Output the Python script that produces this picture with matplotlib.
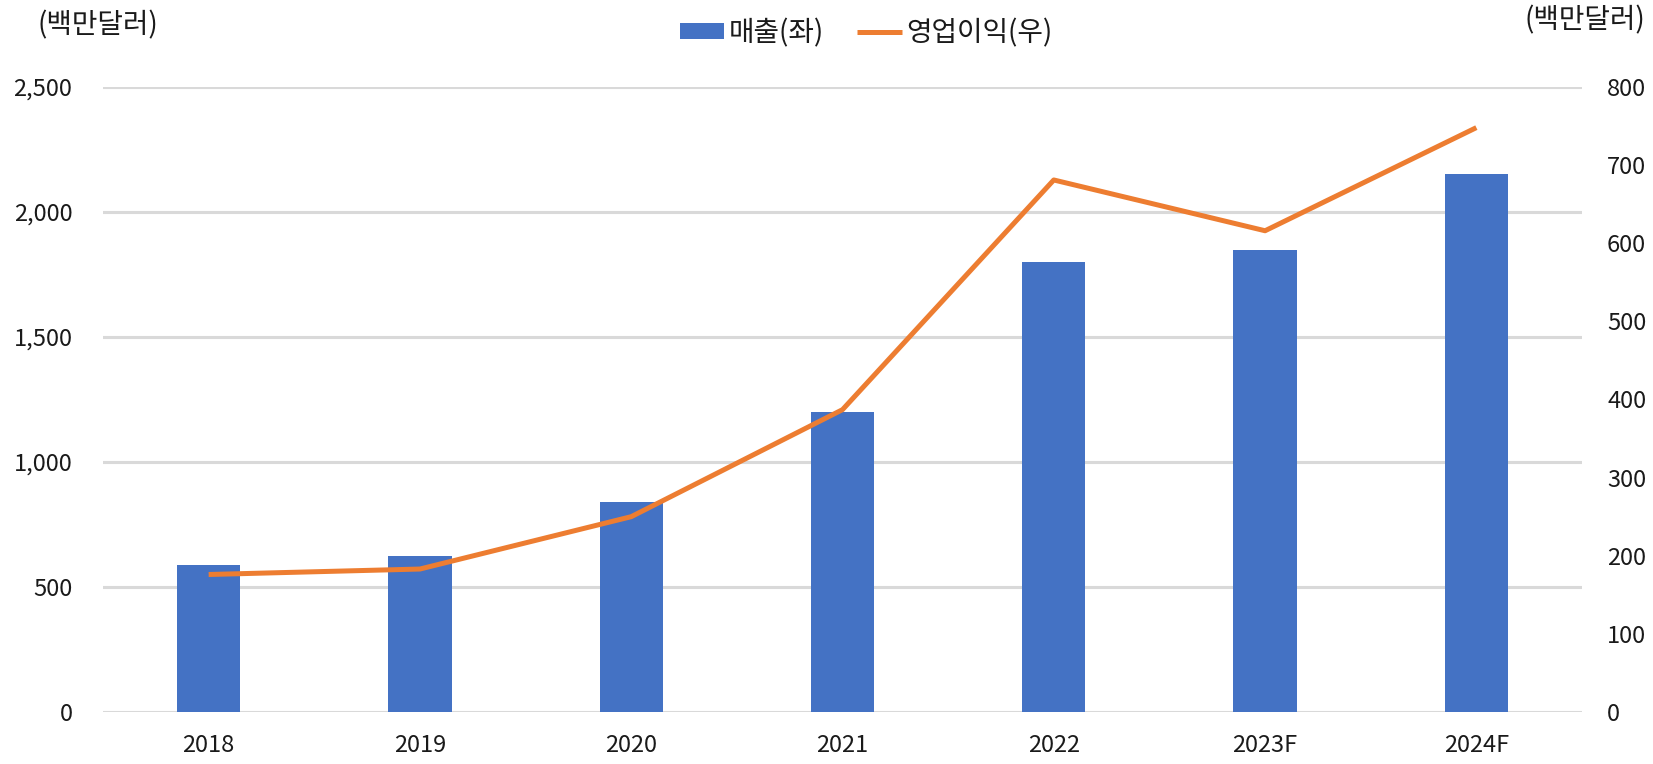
import matplotlib
matplotlib.use("Agg")
import matplotlib.pyplot as plt
import numpy as np

plt.rcParams['font.family'] = ['Noto Sans CJK KR', 'DejaVu Sans']

categories = ["2018", "2019", "2020", "2021", "2022", "2023F", "2024F"]
sales = [588, 625, 840, 1202, 1800, 1848, 2152]
op_income = [176, 183, 250, 387, 681, 616, 748]
left_ticks = [0, 500, 1000, 1500, 2000, 2500]
right_ticks = [0, 100, 200, 300, 400, 500, 600, 700, 800]

BLUE = "#4472C4"
ORANGE = "#ED7D31"
GRID = "#D9D9D9"
TXT = "#1A1A1A"
FS = 17
KFS = 20

fig = plt.figure(figsize=(16.53, 7.64), dpi=100)
ax = fig.add_axes([103/1653, 1-712/764, (1582-103)/1653, (712-87)/764])
ax2 = ax.twinx()

x = np.arange(len(categories))
ax.bar(x, sales, width=0.3, color=BLUE, zorder=2, label="매출(좌)")
ax2.plot(x, op_income, color=ORANGE, lw=3.6, zorder=3, label="영업이익(우)",
         solid_capstyle='butt')

ax.set_xlim(-0.5, len(categories)-0.5)
ax.set_ylim(0, 2500)
ax2.set_ylim(0, 800)
ax.set_yticks(left_ticks)
ax.set_yticklabels([f"{v:,}" for v in left_ticks])
ax2.set_yticks(right_ticks)
ax2.set_yticklabels([str(v) for v in right_ticks])
ax.set_xticks(x)
ax.set_xticklabels(categories)

ax.yaxis.grid(True, color=GRID, lw=2.2, zorder=0)
ax.set_axisbelow(True)
for a in (ax, ax2):
    for s in a.spines.values():
        s.set_visible(False)
ax.tick_params(axis='y', length=0, pad=22, labelsize=FS, labelcolor=TXT)
ax.tick_params(axis='x', length=0, pad=16, labelsize=FS, labelcolor=TXT)
ax2.tick_params(axis='y', length=0, pad=18, labelsize=FS, labelcolor=TXT)
ax.set_zorder(1)
ax2.set_zorder(2)
ax.patch.set_visible(False)

fig.text(37/1653, 1-25/764, "(백만달러)", fontsize=KFS, color=TXT, va='center', ha='left')
fig.text(1645/1653, 1-20/764, "(백만달러)", fontsize=KFS, color=TXT, va='center', ha='right')

h1, l1 = ax.get_legend_handles_labels()
h2, l2 = ax2.get_legend_handles_labels()
leg = fig.legend(h1 + h2, l1 + l2, loc='center', bbox_to_anchor=(866/1653, 1-33/764),
                 ncol=2, frameon=False, fontsize=KFS, handlelength=1.6, handletextpad=0.15,
                 columnspacing=1.2, handleheight=0.5)
for t in leg.get_texts():
    t.set_color(TXT)

fig.savefig("out.png", dpi=100, facecolor="white")
